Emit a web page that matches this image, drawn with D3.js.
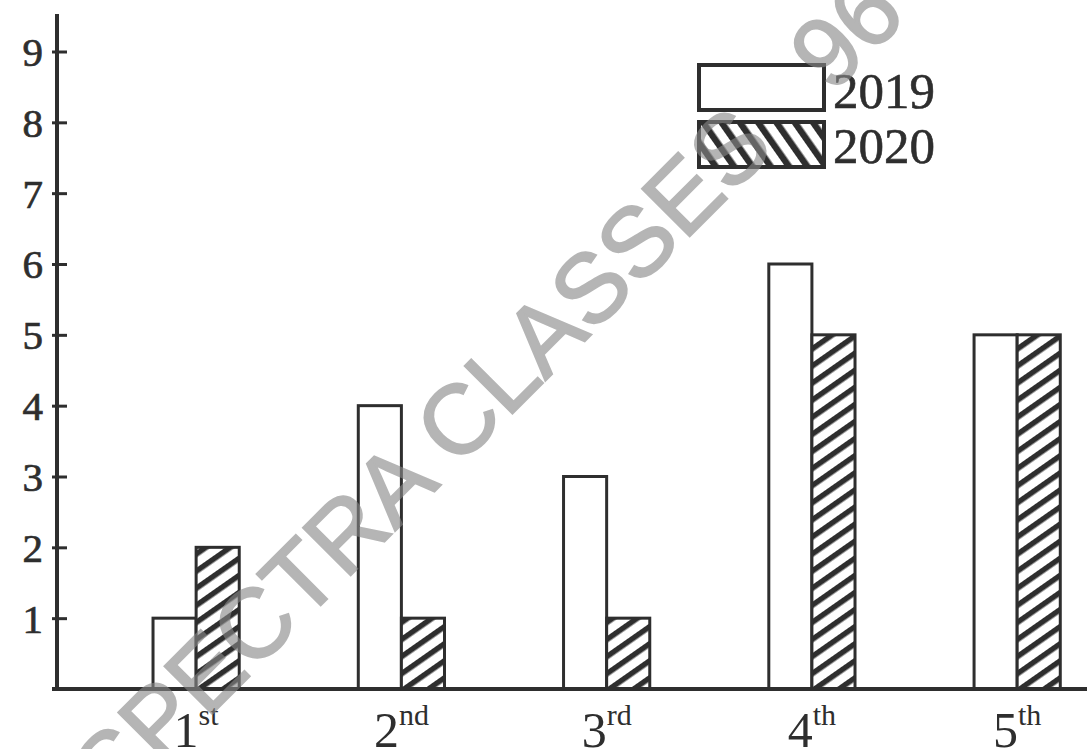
<!doctype html>
<html lang="en">
<head>
    <meta charset="utf-8">
    <title>2019 vs 2020</title>
    <script src="https://cdnjs.cloudflare.com/ajax/libs/d3/7.8.5/d3.min.js"></script>
    <style>
        html, body { margin: 0; padding: 0; background: #fff; }
        svg { display: block; }
        text { font-family: 'Liberation Serif', 'Times New Roman', serif; fill: #2e2e2e; }
        .wm { font-family: 'Liberation Sans', Arial, sans-serif; fill: #888; stroke: #888; stroke-width: 2; opacity: 0.62; }
    </style>
</head>
<body>
    <svg id="chart" width="1087" height="749"></svg>
    <script>
        // data
        const categories = ["1", "2", "3", "4", "5"];
        const suffixes = ["st", "nd", "rd", "th", "th"];
        const series = ["2019", "2020"];
        const values2019 = [1, 4, 3, 6, 5];
        const values2020 = [2, 1, 1, 5, 5];
        const yTicks = [1, 2, 3, 4, 5, 6, 7, 8, 9];

        const svg = d3.select("#chart");
        const ink = "#2e2e2e";

        // hatch patterns (bars lean "/", legend leans "\")
        const defs = svg.append("defs");
        function hatch(id, size, angle, w) {
            const p = defs.append("pattern")
                .attr("id", id)
                .attr("patternUnits", "userSpaceOnUse")
                .attr("width", size).attr("height", size)
                .attr("patternTransform", `rotate(${angle})`);
            p.append("rect").attr("width", size).attr("height", size).attr("fill", "#fff");
            p.append("line").attr("x1", w / 2).attr("y1", 0).attr("x2", w / 2).attr("y2", size)
                .attr("stroke", ink).attr("stroke-width", w);
        }
        hatch("hatch", 14, 55, 5.5);
        hatch("hatchLegend", 15, -35, 6.5);

        const y = d3.scaleLinear().domain([0, 9]).range([689, 51.5]);

        const x = d3.scaleBand()
            .domain(categories)
            .range([93.5, 1119.8])
            .paddingInner(0.58)
            .paddingOuter(0.29);

        const xs = d3.scaleBand().domain(series).range([0, x.bandwidth()]);

        const rows = categories.map((c, i) => ({ cat: c, suf: suffixes[i], v: [values2019[i], values2020[i]] }));

        // bars
        svg.append("g").selectAll("g.grp")
            .data(rows)
            .join("g")
            .attr("class", "grp")
            .attr("transform", d => `translate(${x(d.cat)},0)`)
            .selectAll("rect")
            .data(d => d.v.map((v, j) => ({ s: series[j], v })))
            .join("rect")
            .attr("x", d => xs(d.s))
            .attr("y", d => y(d.v))
            .attr("width", xs.bandwidth())
            .attr("height", d => y(0) - y(d.v))
            .attr("fill", d => d.s === "2019" ? "#fff" : "url(#hatch)")
            .attr("stroke", ink)
            .attr("stroke-width", 3);

        // x axis line
        svg.append("line")
            .attr("x1", 52).attr("x2", 1087)
            .attr("y1", y(0)).attr("y2", y(0))
            .attr("stroke", ink).attr("stroke-width", 4);

        // y axis
        const yAxis = d3.axisRight(y).tickValues(yTicks).tickSize(10).tickFormat("");
        const ya = svg.append("g").attr("transform", "translate(57,0)").call(yAxis);
        ya.select(".domain").remove();
        ya.selectAll(".tick line").attr("stroke", ink).attr("stroke-width", 3).attr("x1", -5);
        svg.append("line")
            .attr("x1", 57).attr("x2", 57)
            .attr("y1", 14).attr("y2", y(0) + 2)
            .attr("stroke", ink).attr("stroke-width", 4);

        svg.selectAll("text.ytick")
            .data(yTicks)
            .join("text")
            .attr("class", "ytick")
            .attr("x", 43)
            .attr("y", d => y(d))
            .attr("dy", "0.35em")
            .attr("text-anchor", "end")
            .attr("font-size", 41)
            .attr("stroke", ink).attr("stroke-width", 0.7)
            .text(d => d);

        // x labels with superscript
        const xl = svg.selectAll("text.xlab")
            .data(rows)
            .join("text")
            .attr("class", "xlab")
            .attr("x", d => x(d.cat) + x.bandwidth() / 2)
            .attr("y", 747)
            .attr("text-anchor", "middle")
            .attr("font-size", 50);
        xl.append("tspan").text(d => d.cat);
        xl.append("tspan").attr("font-size", 30).attr("dy", -22).text(d => d.suf);

        // legend
        const leg = svg.append("g").selectAll("g")
            .data(series)
            .join("g")
            .attr("transform", (d, i) => `translate(699,${65 + i * 57})`);
        leg.append("rect")
            .attr("width", 125).attr("height", 45)
            .attr("fill", d => d === "2019" ? "#fff" : "url(#hatchLegend)")
            .attr("stroke", ink).attr("stroke-width", 4);
        leg.append("text")
            .attr("x", 134).attr("y", (d, i) => 43 - i * 2)
            .attr("font-size", 51)
            .attr("stroke", ink).attr("stroke-width", 0.6)
            .text(d => d);

        // watermark, drawn over everything
        const wm = svg.append("text")
            .attr("class", "wm")
            .attr("transform", "translate(114,812) rotate(-45)")
            .attr("font-size", 98);
        wm.append("tspan").text("SPECTRA CLASSES");
        wm.append("tspan").attr("dx", 78).text("96-");
    </script>
</body>
</html>
